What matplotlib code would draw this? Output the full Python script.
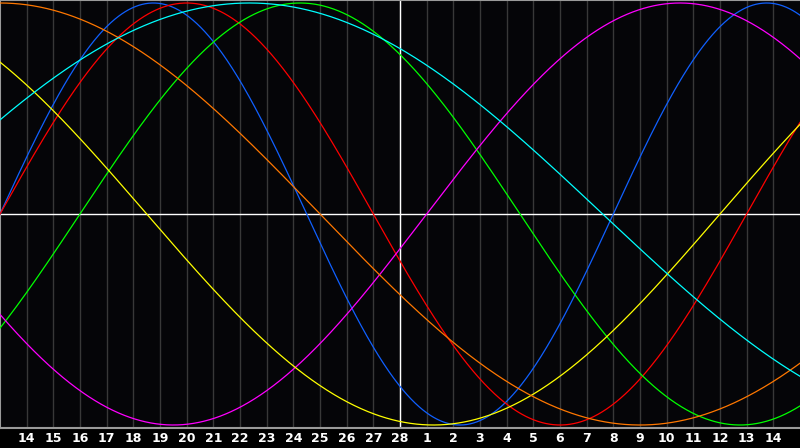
import numpy as np
import matplotlib
matplotlib.use('Agg')
import matplotlib.pyplot as plt

# -----------------------------
# Biorhythm cycles
# -----------------------------

# cycle length in days
periods = [23, 28, 33, 38, 43, 48, 53]
# day (from left edge) where each curve crosses the midline going up
zero_up_day = [0.0, 0.0, 3.0, 16.0, 27.0, -12.0, -3.9]
colors = ['#1060ff', '#ff0000', '#00ff00', '#ff00ff', '#ffff00', '#ff7700', '#00ffff']

# day labels along the bottom (13th of one month to 15th of the next)
day_labels = ['14', '15', '16', '17', '18', '19', '20', '21', '22', '23', '24', '25', '26', '27', '28',
              '1', '2', '3', '4', '5', '6', '7', '8', '9', '10', '11', '12', '13', '14']
n_days = 30
today = 15

# -----------------------------
# Figure
# -----------------------------
fig = plt.figure(figsize=(8, 4.48), dpi=100, facecolor='black')
ax = fig.add_axes([0, 20 / 448, 1, 428 / 448])
ax.set_facecolor('#050508')

amp = 214 / 211
ax.set_xlim(0, n_days)
ax.set_ylim(-amp, amp)

# daily grid lines
for d in range(1, n_days):
    ax.axvline(d, color='#383838', lw=1, zorder=1)

# midline and today line
ax.axhline(0, color='white', lw=1.0, zorder=2)
ax.axvline(today, color='white', lw=1.0, zorder=2)

# curves
t = np.linspace(0, n_days, 1200)
for p, d0, c in zip(periods, zero_up_day, colors):
    ax.plot(t, np.sin(2 * np.pi * (t - d0) / p), color=c, lw=0.9, zorder=3)

# frame
for side in ['left', 'top', 'bottom']:
    ax.spines[side].set_color('#9a9a9a')
    ax.spines[side].set_linewidth(1.5)
ax.spines['right'].set_visible(False)

ax.set_xticks(range(1, n_days))
ax.set_xticklabels(day_labels, color='white', fontsize=9, fontweight='bold')
ax.set_yticks([])
ax.tick_params(axis='x', length=0, pad=3)

fig.savefig('out.png', dpi=100, facecolor='black')
